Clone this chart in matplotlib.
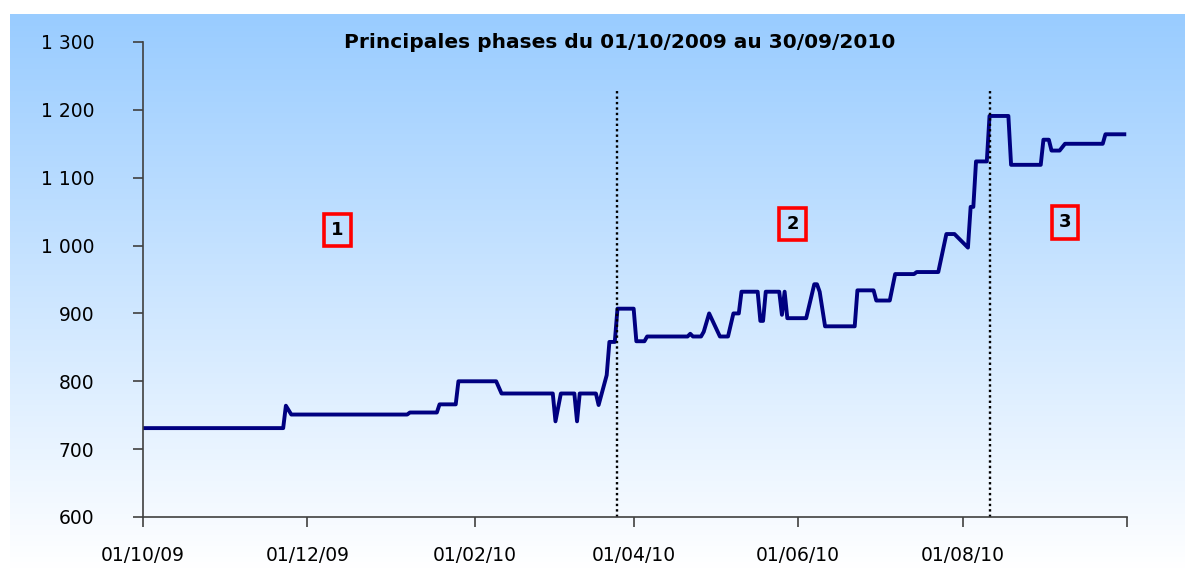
import numpy as np
import pandas as pd
import matplotlib
matplotlib.use("Agg")
import matplotlib.pyplot as plt
from matplotlib.colors import LinearSegmentedColormap

# data
dates = ["2009-10-01", "2009-11-22", "2009-11-23", "2009-11-25", "2010-01-07", "2010-01-08",
         "2010-01-18", "2010-01-19", "2010-01-25", "2010-01-26", "2010-02-09", "2010-02-11",
         "2010-03-02", "2010-03-03", "2010-03-05", "2010-03-10", "2010-03-11", "2010-03-12",
         "2010-03-18", "2010-03-19", "2010-03-22", "2010-03-23", "2010-03-25", "2010-03-26",
         "2010-04-01", "2010-04-02", "2010-04-05", "2010-04-06", "2010-04-21", "2010-04-22",
         "2010-04-23", "2010-04-26", "2010-04-27", "2010-04-29", "2010-05-03", "2010-05-06",
         "2010-05-08", "2010-05-10", "2010-05-11", "2010-05-17", "2010-05-18", "2010-05-19",
         "2010-05-20", "2010-05-25", "2010-05-26", "2010-05-27", "2010-05-28", "2010-06-04",
         "2010-06-07", "2010-06-08", "2010-06-09", "2010-06-11", "2010-06-22", "2010-06-23",
         "2010-06-29", "2010-06-30", "2010-07-05", "2010-07-07", "2010-07-14", "2010-07-15",
         "2010-07-23", "2010-07-26", "2010-07-29", "2010-08-03", "2010-08-04", "2010-08-05",
         "2010-08-06", "2010-08-10", "2010-08-11", "2010-08-18", "2010-08-19", "2010-08-30",
         "2010-08-31", "2010-09-02", "2010-09-03", "2010-09-06", "2010-09-08", "2010-09-22",
         "2010-09-23", "2010-09-30"]
values = [731, 731, 764, 751, 751, 754,
          754, 766, 766, 800, 800, 782,
          782, 741, 782, 782, 741, 782,
          782, 765, 809, 858, 858, 907,
          907, 859, 859, 866, 866, 870,
          866, 866, 873, 900, 866, 866,
          900, 900, 932, 932, 889, 889,
          932, 932, 898, 932, 893, 893,
          943, 943, 932, 881, 881, 934,
          934, 919, 919, 958, 958, 961,
          961, 1017, 1017, 997, 1057, 1057,
          1124, 1124, 1191, 1191, 1119, 1119,
          1156, 1156, 1140, 1140, 1150, 1150,
          1164, 1164]

phase_breaks = ["2010-03-26", "2010-08-11"]
phase_labels = ["1", "2", "3"]
tick_dates = ["2009-10-01", "2009-12-01", "2010-02-01", "2010-04-01", "2010-06-01", "2010-08-01", "2010-10-01"]
tick_labels = ["01/10/09", "01/12/09", "01/02/10", "01/04/10", "01/06/10", "01/08/10", ""]
y_ticks = [600, 700, 800, 900, 1000, 1100, 1200, 1300]

x = pd.to_datetime(dates)

fig = plt.figure(figsize=(11.85, 5.69), dpi=100)

# gradient background
bg = fig.add_axes([10 / 1185, 0, 1 - 10 / 1185, (569 - 14) / 569])
cmap = LinearSegmentedColormap.from_list("bg", ["#99ccff", "#ffffff"])
grad = np.linspace(0, 1, 256).reshape(-1, 1)
bg.imshow(grad, aspect="auto", cmap=cmap, extent=[0, 1, 0, 1], origin="upper")
bg.axis("off")

ax = fig.add_axes([143 / 1185, 1 - 517 / 569, (1127 - 143) / 1185, (517 - 42) / 569])
ax.patch.set_alpha(0)

ax.plot(x, values, color="#000080", lw=2.8, solid_joinstyle="round")

for d in phase_breaks:
    ax.plot([pd.Timestamp(d)] * 2, [600, 1229], color="black", lw=1.7,
            linestyle=(0, (1, 1.3)))

box_pos = [("2009-12-12", 1023), ("2010-05-30", 1032), ("2010-09-08", 1034)]
for lab, (d, v) in zip(phase_labels, box_pos):
    ax.text(pd.Timestamp(d), v, lab, ha="center", va="center", fontsize=13, fontweight="bold",
            bbox=dict(boxstyle="square,pad=0.4", fc="none", ec="#ff0000", lw=2.6))

ax.set_xlim(pd.Timestamp("2009-10-01"), pd.Timestamp("2010-10-01"))
ax.set_ylim(600, 1300)
ax.set_xticks(pd.to_datetime(tick_dates))
ax.set_xticklabels(tick_labels)
ax.set_yticks(y_ticks)
ax.set_yticklabels([f"{v:,}".replace(",", " ") for v in y_ticks])

for s in ["top", "right"]:
    ax.spines[s].set_visible(False)
for s in ["left", "bottom"]:
    ax.spines[s].set_color("#404040")
    ax.spines[s].set_linewidth(1.2)
ax.tick_params(axis="y", length=7, width=1.2, color="#404040", pad=28, labelsize=13.5)
ax.tick_params(axis="x", length=7, width=1.2, color="#404040", pad=14, labelsize=13.5)

fig.text(620 / 1185, 1 - 43 / 569, "Principales phases du 01/10/2009 au 30/09/2010",
         ha="center", va="center", fontsize=14.5, fontweight="bold")

fig.savefig("out.png", dpi=100)
